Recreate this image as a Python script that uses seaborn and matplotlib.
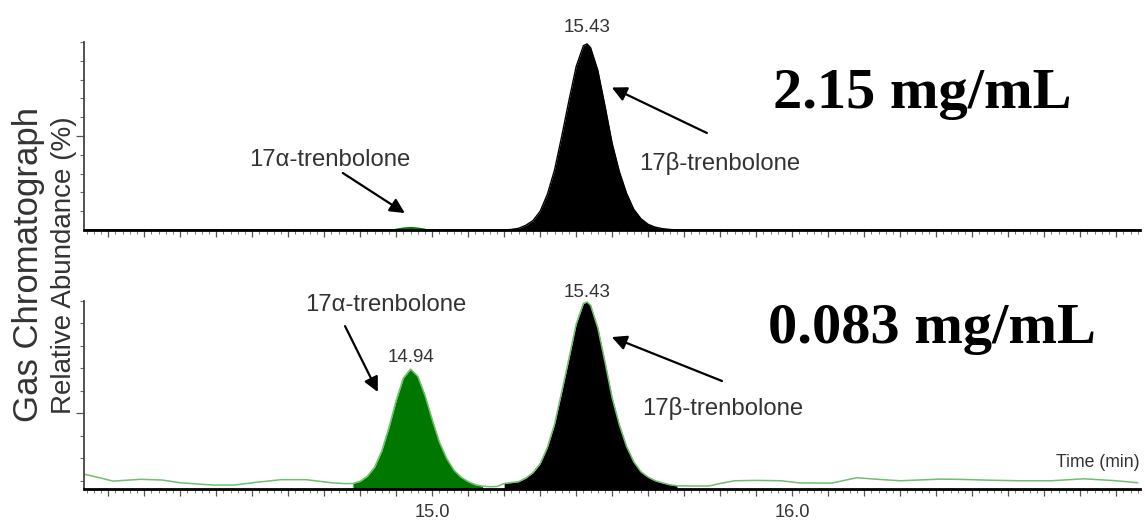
import matplotlib
matplotlib.use("Agg")
import matplotlib.pyplot as plt
from matplotlib import font_manager
from matplotlib.ticker import MultipleLocator, FixedLocator, FuncFormatter, NullFormatter
import pandas as pd
import seaborn as sns

# ---------------------------------------------------------------- data
time_range = (14.033, 16.966)          # retention-time window (min)

# 2.15 mg/mL run (upper trace)
top_alpha_time = [14.90, 14.92, 14.94, 14.96, 14.98]
top_alpha_abund = [0.0, 0.6, 0.9, 0.6, 0.0]
top_beta_time = [15.20, 15.22, 15.24, 15.26, 15.28, 15.30, 15.32, 15.34, 15.36,
                 15.38, 15.40, 15.42, 15.43, 15.44, 15.46, 15.48, 15.50, 15.52,
                 15.54, 15.56, 15.58, 15.60, 15.62, 15.64, 15.66, 15.68]
top_beta_abund = [0.0, 0.3, 0.9, 2.5, 5.0, 10.0, 19.0, 32.0, 50.0,
                  69.0, 87.0, 98.0, 99.0, 97.0, 85.0, 66.0, 46.0, 31.0,
                  19.5, 11.0, 6.0, 3.0, 1.5, 0.7, 0.3, 0.0]

# 0.083 mg/mL run (lower trace)
bot_left_time = [14.035, 14.08, 14.114, 14.19, 14.25, 14.30, 14.39, 14.45,
                 14.51, 14.58, 14.65, 14.72, 14.76]
bot_left_abund = [3.6, 1.5, -0.2, 0.8, 0.4, -1.1, -2.4, -2.4,
                  -0.9, 0.6, 0.6, -1.1, -1.6]
bot_alpha_time = [14.78, 14.80, 14.82, 14.84, 14.86, 14.88, 14.90, 14.92, 14.94,
                  14.96, 14.98, 15.00, 15.02, 15.04, 15.06, 15.08, 15.10, 15.12,
                  15.14]
bot_alpha_abund = [-1.5, -0.3, 2.5, 7.5, 16.5, 29.5, 44.5, 57.0, 62.0,
                   58.0, 47.5, 34.0, 21.5, 12.5, 6.0, 2.0, -0.5, -2.2,
                   -3.0]
bot_gap_time = [15.16, 15.18]
bot_gap_abund = [-3.3, -3.2]
bot_beta_time = [15.20, 15.22, 15.24, 15.26, 15.28, 15.30, 15.32, 15.34, 15.36,
                 15.38, 15.40, 15.42, 15.43, 15.44, 15.46, 15.48, 15.50, 15.52,
                 15.54, 15.56, 15.58, 15.60, 15.62, 15.64, 15.66, 15.68]
bot_beta_abund = [-1.5, -1.0, -0.5, 1.5, 4.5, 9.5, 18.5, 31.5, 49.5,
                  68.0, 87.0, 98.5, 99.3, 97.5, 85.0, 66.0, 46.0, 31.0,
                  19.0, 10.5, 5.0, 2.0, 0.0, -1.2, -2.2, -2.8]
bot_right_time = [15.72, 15.77, 15.80, 15.84, 15.90, 15.97, 16.02, 16.11, 16.18,
                  16.23, 16.30, 16.41, 16.46, 16.55, 16.63, 16.72, 16.81, 16.90,
                  16.96]
bot_right_abund = [-2.9, -2.9, -1.5, 0.0, 0.2, 0.0, -1.2, -1.3, 1.7,
                   0.9, 0.0, 0.9, 0.8, 0.3, 0.0, 0.0, 1.1, 0.0,
                   -1.1]

peak_rt = {"top": [15.43], "bottom": [14.94, 15.43]}
concentrations = ["2.15 mg/mL", "0.083 mg/mL"]
x_tick_labels = [15.0, 16.0]

# --------------------------------------------------------------- style
sns.set_style("ticks")
plt.rcParams["font.family"] = ["Liberation Sans", "DejaVu Sans"]

names = {f.name for f in font_manager.fontManager.ttflist}
if "Liberation Sans Narrow" in names:
    label_family = ["Liberation Sans Narrow", "Liberation Sans", "DejaVu Sans"]
    k = 1.0
else:
    label_family = ["Liberation Sans", "DejaVu Sans"]
    k = 0.82

TXT = "#333333"
GREEN_FILL = "#007800"
GREEN_LINE = "#6fbf6f"

fig = plt.figure(figsize=(11.45, 5.23), dpi=100)
W, H = 1145.0, 523.0


def px_axes(left, top, right, bottom):
    return fig.add_axes([left / W, 1 - bottom / H, (right - left) / W, (bottom - top) / H])


ax_top = px_axes(84, 42, 1140, 230)
ax_bot = px_axes(84, 300.7, 1140, 488.5)

top_ylim = (0.0, 100.0)
bot_ylim = (-4.3, 100.0)

# ---------------------------------------------------------- upper trace
top_trace = pd.DataFrame({
    "time": [time_range[0]] + top_alpha_time + top_beta_time + [time_range[1]],
    "abund": [0.0] + top_alpha_abund + top_beta_abund + [0.0],
})
ax_top.fill_between(top_beta_time, top_beta_abund, 0, color="black", lw=0)
ax_top.fill_between(top_alpha_time, top_alpha_abund, 0, color=GREEN_FILL, lw=0)
sns.lineplot(data=top_trace, x="time", y="abund", ax=ax_top, color="black",
             lw=1.0, estimator=None, sort=False)
sns.lineplot(x=top_alpha_time, y=top_alpha_abund, ax=ax_top, color=GREEN_FILL,
             lw=2.0, estimator=None, sort=False)

# ---------------------------------------------------------- lower trace
bot_trace = pd.DataFrame({
    "time": bot_left_time + bot_alpha_time + bot_gap_time + bot_beta_time + bot_right_time,
    "abund": bot_left_abund + bot_alpha_abund + bot_gap_abund + bot_beta_abund + bot_right_abund,
})
ax_bot.fill_between(bot_alpha_time, bot_alpha_abund, bot_ylim[0], color=GREEN_FILL, lw=0)
ax_bot.fill_between(bot_beta_time, bot_beta_abund, bot_ylim[0], color="black", lw=0)
sns.lineplot(data=bot_trace, x="time", y="abund", ax=ax_bot, color=GREEN_LINE,
             lw=1.1, estimator=None, sort=False)

# ------------------------------------------------------------- axes
def x_fmt(v, pos):
    for t in x_tick_labels:
        if abs(v - t) < 1e-6:
            return f"{t:.1f}"
    return ""


for ax, ylim in ((ax_top, top_ylim), (ax_bot, bot_ylim)):
    ax.set_xlim(*time_range)
    ax.set_ylim(*ylim)
    ax.set_xlabel("")
    ax.set_ylabel("")
    for s in ("top", "right"):
        ax.spines[s].set_visible(False)
    ax.spines["bottom"].set_linewidth(2.0)
    ax.spines["bottom"].set_color("black")
    ax.spines["left"].set_linewidth(1.3)
    ax.spines["left"].set_color("#444444")
    ax.xaxis.set_major_locator(MultipleLocator(0.1))
    ax.xaxis.set_minor_locator(MultipleLocator(0.02))
    ax.tick_params(axis="x", which="major", length=5, width=0.9, color="#555555")
    ax.tick_params(axis="x", which="minor", length=3, width=0.7, color="#777777")
    ax.tick_params(axis="y", which="major", length=6, width=0.9, color="#555555")
    ax.tick_params(axis="y", which="minor", length=3, width=0.8, color="#666666")
    ax.yaxis.set_major_formatter(NullFormatter())
    ax.yaxis.set_minor_formatter(NullFormatter())

ax_top.xaxis.set_major_formatter(NullFormatter())
ax_bot.xaxis.set_major_formatter(FuncFormatter(x_fmt))
ax_bot.tick_params(axis="x", which="major", labelsize=16 * k, labelcolor=TXT, pad=6)
for lab in ax_bot.get_xticklabels():
    lab.set_family(label_family)

ax_top.yaxis.set_major_locator(FixedLocator([50]))
ax_top.yaxis.set_minor_locator(FixedLocator([10, 20, 30, 40, 60, 70, 80, 90, 100]))
ax_bot.yaxis.set_major_locator(FixedLocator([37.5]))
ax_bot.yaxis.set_minor_locator(FixedLocator([0, 12.5, 25, 50, 62.5, 75, 87.5, 100]))

# --------------------------------------------------------- annotations
arrow = dict(arrowstyle="-|>", color="black", lw=1.6, mutation_scale=22,
             shrinkA=0, shrinkB=0)

# retention-time labels above the apexes
apex_offsets = {"top": [8.5], "bottom": [5.0, 3.5]}
for key, ax, trace in (("top", ax_top, top_trace), ("bottom", ax_bot, bot_trace)):
    for rt, off in zip(peak_rt[key], apex_offsets[key]):
        apex = trace.loc[(trace["time"] - rt).abs().idxmin(), "abund"]
        ax.annotate(f"{rt:.2f}", xy=(rt, apex), xytext=(0, off), textcoords="offset points",
                    ha="center", va="baseline", fontsize=16.5 * k, color=TXT,
                    family=label_family, annotation_clip=False)

# compound names with arrows
ax_top.text(14.716, 37.2, "17α-trenbolone", ha="center", va="center",
            fontsize=21 * k, color=TXT, family=label_family)
ax_top.annotate("", xy=(14.924, 9.0), xytext=(14.752, 30.3), arrowprops=arrow)
ax_top.text(15.799, 35.6, "17β-trenbolone", ha="center", va="center",
            fontsize=21 * k, color=TXT, family=label_family)
ax_top.annotate("", xy=(15.499, 75.8), xytext=(15.763, 51.6), arrowprops=arrow)

ax_bot.text(14.871, 97.6, "17α-trenbolone", ha="center", va="center",
            fontsize=21 * k, color=TXT, family=label_family)
ax_bot.annotate("", xy=(14.849, 49.3), xytext=(14.758, 85.9), arrowprops=arrow,
                annotation_clip=False)
ax_bot.text(15.808, 40.4, "17β-trenbolone", ha="center", va="center",
            fontsize=21 * k, color=TXT, family=label_family)
ax_bot.annotate("", xy=(15.499, 79.8), xytext=(15.805, 55.4), arrowprops=arrow)

# concentrations
ax_top.text(0.652, 0.649, concentrations[0], transform=ax_top.transAxes,
            ha="left", va="baseline", fontsize=42, fontweight="bold",
            family=["Liberation Serif", "DejaVu Serif"], color="black")
ax_bot.text(0.648, 0.775, concentrations[1], transform=ax_bot.transAxes,
            ha="left", va="baseline", fontsize=42, fontweight="bold",
            family=["Liberation Serif", "DejaVu Serif"], color="black")

ax_bot.text(1.0, 0.141, "Time (min)", transform=ax_bot.transAxes, ha="right",
            va="center", fontsize=15.5 * k, color=TXT, family=label_family)

# shared y-axis title (two lines, rotated)
fig.text(38 / W, 1 - 265 / H, "Gas Chromatograph", rotation=90, rotation_mode="anchor",
         ha="center", va="baseline", fontsize=25, color=TXT)
fig.text(71 / W, 1 - 265 / H, "Relative Abundance (%)", rotation=90, rotation_mode="anchor",
         ha="center", va="baseline", fontsize=20, color=TXT)

fig.savefig("out.png", dpi=100)
